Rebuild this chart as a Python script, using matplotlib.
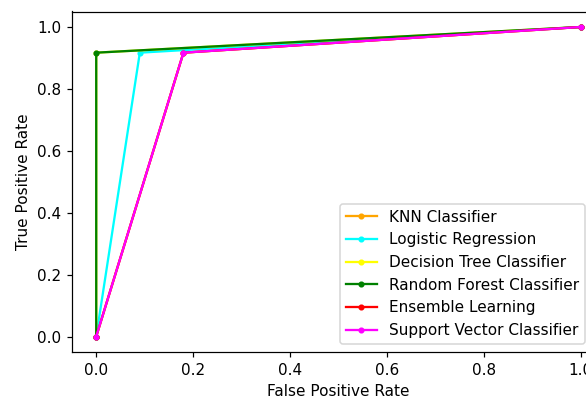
import matplotlib
matplotlib.use("Agg")
import matplotlib.pyplot as plt

# ROC points per classifier (fpr, tpr)
names = ["KNN Classifier", "Logistic Regression", "Decision Tree Classifier",
         "Random Forest Classifier", "Ensemble Learning", "Support Vector Classifier"]
colors = ["orange", "cyan", "yellow", "green", "red", "magenta"]

knn_fpr = [0.0, 0.18, 1.0]
knn_tpr = [0.0, 0.917, 1.0]
lr_fpr = [0.0, 0.09, 1.0]
lr_tpr = [0.0, 0.917, 1.0]
dt_fpr = [0.0, 0.0, 1.0]
dt_tpr = [0.0, 0.917, 1.0]
rf_fpr = [0.0, 0.0, 1.0]
rf_tpr = [0.0, 0.917, 1.0]
ens_fpr = [0.0, 0.18, 1.0]
ens_tpr = [0.0, 0.917, 1.0]
svc_fpr = [0.0, 0.18, 1.0]
svc_tpr = [0.0, 0.917, 1.0]

curves = [(knn_fpr, knn_tpr), (lr_fpr, lr_tpr), (dt_fpr, dt_tpr),
          (rf_fpr, rf_tpr), (ens_fpr, ens_tpr), (svc_fpr, svc_tpr)]

W, H, DPI = 586, 404, 110
fig = plt.figure(figsize=(W / DPI, H / DPI), dpi=DPI)
# axes run past the right edge, as in the (cropped) original
ax = fig.add_axes([72 / W, (H - 352) / H, (605 - 72) / W, (352 - 11.5) / H])

for (fpr, tpr), name, c in zip(curves, names, colors):
    ax.plot(fpr, tpr, marker=".", color=c, label=name)

ax.set_xlim(-0.05, 1.05)
ax.set_ylim(-0.05, 1.05)
ax.set_xlabel("False Positive Rate")
ax.set_ylabel("True Positive Rate")
ax.legend(loc="lower right", bbox_to_anchor=(585 / W, (H - 344) / H),
          bbox_transform=fig.transFigure, borderaxespad=0)

fig.savefig("out.png", dpi=DPI)
